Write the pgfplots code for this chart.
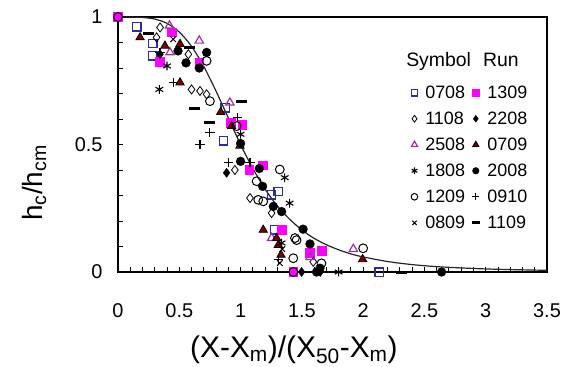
\documentclass[border=0pt]{standalone}
\usepackage{pgfplots}
\pgfplotsset{compat=1.18}
\usepackage{fontspec}
\setmainfont{Liberation Sans}
\definecolor{sqblue}{RGB}{45,45,160}
\definecolor{mag}{RGB}{255,0,255}
\definecolor{purp}{RGB}{160,50,160}
\definecolor{dred}{RGB}{128,0,0}
\pgfplotsset{only mark legend/.style={legend image code/.code={\draw[mark repeat=2,mark phase=2,##1] plot coordinates {(0bp,0bp) (6bp,0bp) (12bp,0bp)};}}}
\begin{document}
\begin{tikzpicture}
\begin{axis}[name=ax, scale only axis, width=429bp, height=255bp,
  xmin=0, xmax=3.5, ymin=0, ymax=1,
  xtick={0,0.5,1,1.5,2,2.5,3,3.5}, ytick={0,0.5,1},
  xticklabels={0,0.5,1,1.5,2,2.5,3,3.5},
  yticklabels={0,0.5,1},
  minor x tick num=4, minor y tick num=4,
  tick align=inside, tick pos=left,
  major tick length=5bp, minor tick length=5bp,
  every tick/.style={black, line width=0.9bp},
  axis line style={line width=1.5bp},
  tick label style={font=\fontsize{20}{24}\selectfont},
  /pgf/number format/assume math mode=true,
  xticklabel style={yshift=-28bp},
  yticklabel style={xshift=-12bp},
  xlabel={(X-X\textsubscript{m})/(X\textsubscript{50}-X\textsubscript{m})},
  xlabel style={font=\fontsize{30}{32}\selectfont, at={(axis description cs:0.41,-0.306)}, anchor=center},
  legend columns=2, legend cell align=left,
  legend style={at={(rel axis cs:0.676,0.745)}, anchor=north west, draw=none, fill=none,
    font=\fontsize{18}{20}\selectfont, row sep=9bp, nodes={inner sep=1.5bp},
    /tikz/every odd column/.append style={column sep=6bp},
    /tikz/every even column/.append style={column sep=5bp}},
  legend image post style={every mark/.append style={scale=0.75}},
  clip=false,
]
\addplot[forget plot, black!85, line width=1.2bp, smooth] coordinates {
(0,1) (0.1,1.0) (0.2,0.998) (0.3,0.992) (0.4,0.975) (0.5,0.941) (0.6,0.885) (0.7,0.806)
(0.8,0.709) (0.9,0.604) (1.0,0.5) (1.1,0.406) (1.2,0.325) (1.3,0.259) (1.4,0.207)
(1.5,0.165) (1.6,0.132) (1.7,0.107) (1.8,0.087) (1.9,0.071) (2.0,0.059) (2.2,0.041)
(2.4,0.029) (2.6,0.021) (2.8,0.016) (3.0,0.012) (3.2,0.0095) (3.5,0.0066)};
% 0708
\addplot[only marks, mark=square, mark size=4.2bp, sqblue, mark options={line width=1.4bp, fill=white}] coordinates {
(0.152,0.962) (0.283,0.896) (0.283,0.848) (0.873,0.644) (0.86,0.515) (1.253,0.303) (1.308,0.316) (1.28,0.165) (2.13,0)};
\addlegendentry{0708}
% 1309
\addplot[only marks, mark=square*, mark size=4.4bp, mag, mark options={fill=mag}] coordinates {
(0,1) (0.438,0.94) (0.337,0.826) (0.663,0.82) (0.92,0.585) (1.013,0.579) (1.07,0.40) (1.18,0.419) (1.335,0.165) (1.566,0.076) (1.66,0.083) (1.43,0)};
\addlegendentry{1309}
% 1108
\addplot[only marks, mark=diamond, mark size=4.5bp, black, mark options={line width=0.8bp, fill=white}] coordinates {
(0.343,0.959) (0.315,0.92) (0.574,0.854) (0.60,0.716) (0.669,0.71) (0.723,0.697) (0.954,0.40) (1.077,0.29) (1.253,0.231) (1.593,0.04)};
\addlegendentry{1108}
% 2208
\addplot[only marks, mark=diamond*, mark size=4.5bp, black] coordinates {
(0.343,0.854) (0.886,0.389) (1.498,0) (1.65,0.0)};
\addlegendentry{2208}
% 2508
\addplot[only marks, mark=triangle, mark size=4.8bp, purp, mark options={line width=1.2bp, fill=white}] coordinates {
(0.42,0.966) (0.424,0.861) (0.663,0.907) (0.913,0.664) (1.253,0.133) (1.566,0.058) (1.92,0.09)};
\addlegendentry{2508}
% 0709
\addplot[only marks, mark=triangle*, mark size=4.8bp, black, mark options={fill=dred, line width=0.8bp}] coordinates {
(0.18,0.92) (0.383,0.887) (0.506,0.894) (0.506,0.743) (0.838,0.627) (0.927,0.572) (0.995,0.495) (1.185,0.165) (1.294,0.133) (1.308,0.106) (1.33,0.067) (1.996,0.05)};
\addlegendentry{0709}
% 1808
\addplot[only marks, mark=asterisk, mark size=4.4bp, black, mark options={line width=1.1bp}] coordinates {
(0.40,0.808) (0.337,0.716) (1.0,0.54) (1.36,0.37) (1.40,0.27) (1.335,0.114) (1.80,0)};
\addlegendentry{1808}
% 2008
\addplot[only marks, mark=*, mark size=4.4bp, black] coordinates {
(0.49,0.867) (0.555,0.82) (0.723,0.861) (0.663,0.80) (1.0,0.504) (1.0,0.434) (1.153,0.406) (1.18,0.336) (1.267,0.257) (1.335,0.237) (1.51,0.168) (1.566,0.11) (1.648,0.015) (1.62,0) (2.64,0)};
\addlegendentry{2008}
% 1209
\addplot[only marks, mark=o, mark size=4.4bp, black, mark options={line width=1bp, fill=white}] coordinates {
(0,1) (0.723,0.828) (0.75,0.67) (0.968,0.572) (1.32,0.402) (1.131,0.356) (1.144,0.283) (1.185,0.277) (1.444,0.133) (1.457,0.125) (1.43,0.054) (1.66,0.034) (2.0,0.093) (1.43,0)};
\addlegendentry{1209}
% 0910
\addplot[only marks, mark=+, mark size=4.6bp, black, mark options={line width=1.1bp}] coordinates {
(0.343,0.86) (0.45,0.743) (0.75,0.546) (0.669,0.5) (0.975,0.605) (0.9,0.43) (1.077,0.428) (1.31,0.05)};
\addlegendentry{0910}
% 0809
\addplot[only marks, mark=x, mark size=4bp, black, mark options={line width=1bp}] coordinates {
(0.45,0.913) (1.32,0.035) (1.34,0.09)};
\addlegendentry{0809}
% 1109
\addplot[only marks, mark=-, mark size=5.5bp, black, mark options={line width=3bp}] coordinates {
(0.247,0.936) (0.587,0.88) (0.628,0.64) (1.009,0.668) (0.75,0.585) (2.31,0)};
\addlegendentry{1109}
\node[font=\fontsize{19.5}{20}\selectfont, anchor=base] at (rel axis cs:0.803,0.804) {Symbol\hspace{12bp}Run};
\node[font=\fontsize{28}{30}\selectfont, rotate=90, anchor=center] at (rel axis cs:-0.195,0.35) {h\textsubscript{c}/h\textsubscript{cm}};
\end{axis}
\pgfresetboundingbox
\path[use as bounding box] ([shift={(-118bp,-95bp)}]ax.south west) rectangle ([shift={(19bp,17bp)}]ax.north east);
\end{tikzpicture}
\end{document}
